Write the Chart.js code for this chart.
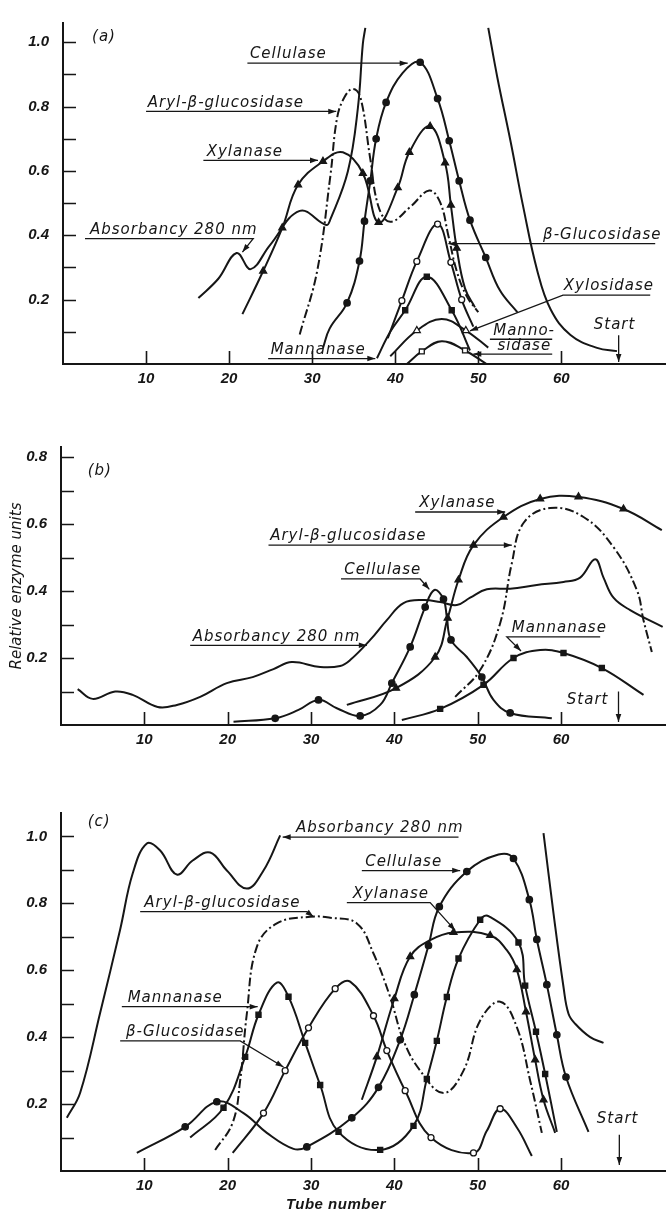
<!DOCTYPE html>
<html>
<head>
<meta charset="utf-8">
<script src="https://cdn.jsdelivr.net/npm/chart.js@4.4.1/dist/chart.umd.min.js"></script>
<style>
  body { margin: 0; background: #fff; width: 666px; height: 1216px; position: relative; overflow: hidden; }
  canvas { position: absolute; left: 0; }
</style>
</head>
<body>
<canvas id="chartA" width="666" height="390" style="top:0px"></canvas>
<canvas id="chartB" width="666" height="350" style="top:400px"></canvas>
<canvas id="chartC" width="666" height="436" style="top:780px"></canvas>
<script>
// tick labels
const tubeTicks = [10, 20, 30, 40, 50, 60];
const yLabels = [0.2, 0.4, 0.6, 0.8, 1.0];

// ---- panel (a) : [tube, value]
const aAbsorbancy1 = [[16.3,0.205],[18.7,0.265],[20.9,0.345],[22.6,0.295],[24.9,0.369],[28.5,0.476],[31.7,0.432],[32.2,0.45],[34.3,0.599],[35.5,0.795],[36.1,0.995],[36.4,1.045]];
const aAbsorbancy2 = [[51.2,1.045],[52.3,0.89],[53.9,0.69],[55.4,0.49],[57.1,0.29],[58.7,0.17],[61.1,0.09],[64.3,0.05],[66.7,0.04]];
const aCellulase = [[31.3,0.05],[32.1,0.11],[34.2,0.19],[35.7,0.32],[36.3,0.444],[37.0,0.569],[37.7,0.70],[38.9,0.813],[40.9,0.905],[43.0,0.938],[45.1,0.825],[46.5,0.694],[47.7,0.569],[49.0,0.447],[50.9,0.331],[52.6,0.229],[54.7,0.161]];
const aCellulaseMarks = [2,3,4,5,6,7,9,10,11,12,13,14];
const aXylanase = [[21.6,0.155],[24.1,0.289],[26.4,0.423],[28.3,0.557],[31.3,0.63],[33.7,0.658],[36.1,0.593],[38.0,0.44],[40.3,0.548],[41.7,0.658],[44.2,0.739],[46.0,0.625],[46.7,0.494],[47.4,0.36],[48.4,0.235],[49.6,0.176]];
const aXylanaseMarks = [1,2,3,4,6,7,8,9,10,11,12,13];
const aAryl = [[28.5,0.092],[30.6,0.289],[32.2,0.587],[33.0,0.765],[33.9,0.83],[34.9,0.855],[35.8,0.83],[37.0,0.637],[38.0,0.488],[39.4,0.442],[41.8,0.488],[44.1,0.539],[45.4,0.503],[46.4,0.399],[47.4,0.289],[48.6,0.211],[50.0,0.161]];
const aBetaGluc = [[39.1,0.08],[40.8,0.197],[42.6,0.319],[45.1,0.435],[46.7,0.316],[48.0,0.2],[49.4,0.116]];
const aBetaGlucMarks = [1,2,3,4,5];
const aMannanase = [[37.8,0.018],[39.4,0.10],[41.2,0.167],[43.8,0.271],[46.8,0.167],[49.0,0.042]];
const aMannanaseMarks = [2,3,4];
const aXylosidase = [[39.4,0.024],[42.6,0.104],[45.6,0.14],[48.5,0.104],[51.2,0.051]];
const aXylosidaseMarks = [1,3];
const aMannosidase = [[41.4,0.0],[43.2,0.039],[45.6,0.071],[48.4,0.042],[51.0,0.0]];
const aMannosidaseMarks = [1,3];

// ---- panel (b)
const bAbsorbancy = [[2.0,0.107],[3.8,0.078],[6.5,0.10],[8.6,0.09],[11.6,0.054],[13.9,0.06],[16.7,0.084],[19.9,0.125],[23.0,0.143],[25.5,0.167],[27.7,0.188],[31.1,0.173],[33.5,0.176],[34.7,0.194],[37.1,0.254],[39.1,0.313],[41.1,0.364],[43.5,0.373],[45.5,0.367],[47.5,0.358],[49.1,0.38],[51.1,0.405],[53.9,0.407],[57.1,0.418],[60.3,0.427],[62.3,0.44],[64.1,0.495],[65.1,0.44],[66.3,0.38],[68.3,0.343],[72.2,0.293]];
const bCellulase = [[20.7,0.01],[25.7,0.02],[28.5,0.045],[30.9,0.075],[33.1,0.05],[35.9,0.027],[38.3,0.06],[39.7,0.125],[41.9,0.233],[43.7,0.352],[44.8,0.403],[45.9,0.376],[46.3,0.322],[46.8,0.254],[48.7,0.203],[50.5,0.143],[51.9,0.075],[53.9,0.036],[58.9,0.02]];
const bCellulaseMarks = [1,3,5,7,8,9,11,13,15,17];
const bXylanase = [[34.3,0.06],[40.2,0.11],[44.9,0.203],[46.4,0.319],[47.7,0.433],[49.5,0.537],[53.1,0.621],[57.5,0.675],[62.1,0.681],[67.5,0.645],[72.1,0.582]];
const bXylanaseMarks = [1,2,3,4,5,6,7,8,9];
const bAryl = [[47.3,0.084],[50.3,0.164],[52.7,0.304],[54.1,0.483],[55.5,0.603],[58.7,0.648],[62.7,0.621],[66.3,0.531],[69.1,0.403],[69.9,0.313],[70.9,0.218]];
const bMannanase = [[40.9,0.015],[45.5,0.048],[50.7,0.12],[54.3,0.2],[57.5,0.224],[60.3,0.215],[64.9,0.17],[69.9,0.09]];
const bMannanaseMarks = [1,2,3,5,6];

// ---- panel (c)
const cAbsorbancy1 = [[0.7,0.159],[2.3,0.234],[4.7,0.473],[7.1,0.722],[8.6,0.889],[10.3,0.979],[11.9,0.958],[13.9,0.886],[15.8,0.928],[17.9,0.952],[19.9,0.898],[22.3,0.844],[24.3,0.898],[26.3,1.003]];
const cAbsorbancy2 = [[57.9,1.01],[59.1,0.77],[60.3,0.55],[60.9,0.47],[61.7,0.44],[63.5,0.4],[65.1,0.383]];
const cAryl = [[18.5,0.063],[20.6,0.144],[21.5,0.27],[22.3,0.47],[23.5,0.67],[25.9,0.74],[29.9,0.76],[32.3,0.757],[35.5,0.74],[37.5,0.65],[39.5,0.52],[41.1,0.39],[43.1,0.30],[45.9,0.233],[48.3,0.30],[50.3,0.45],[52.7,0.506],[54.7,0.43],[56.3,0.27],[57.7,0.114]];
const cMannanase = [[15.5,0.10],[19.5,0.189],[22.1,0.341],[23.7,0.467],[25.9,0.563],[27.3,0.521],[29.3,0.383],[31.1,0.257],[33.3,0.117],[38.3,0.063],[42.3,0.135],[43.9,0.275],[45.1,0.389],[46.3,0.52],[47.7,0.635],[50.3,0.751],[51.3,0.762],[54.9,0.683],[55.7,0.554],[57.0,0.416],[58.1,0.29],[59.5,0.117]];
const cMannanaseMarks = [1,2,3,5,6,7,8,9,10,11,12,13,14,15,17,18,19,20];
const cBetaGluc = [[20.6,0.054],[24.3,0.173],[26.9,0.30],[29.7,0.428],[32.9,0.545],[34.7,0.566],[37.5,0.464],[39.1,0.36],[41.3,0.24],[44.4,0.10],[49.5,0.054],[51.1,0.12],[52.7,0.186],[54.7,0.13],[56.5,0.045]];
const cBetaGlucMarks = [1,2,3,4,6,7,8,9,10,12];
const cCellulase = [[9.1,0.054],[14.9,0.132],[18.7,0.207],[21.9,0.173],[24.7,0.114],[27.9,0.066],[29.5,0.072],[34.9,0.159],[38.1,0.25],[40.7,0.392],[42.4,0.527],[44.1,0.674],[45.4,0.79],[48.7,0.895],[52.5,0.946],[54.3,0.934],[56.2,0.811],[57.1,0.692],[58.3,0.557],[59.5,0.407],[60.6,0.281],[63.3,0.117]];
const cCellulaseMarks = [1,2,6,7,8,9,10,11,12,13,15,16,17,18,19,20];
const cXylanase = [[36.1,0.213],[37.9,0.341],[40.0,0.515],[41.9,0.641],[44.3,0.69],[47.1,0.713],[51.5,0.704],[53.5,0.66],[54.7,0.602],[55.8,0.476],[56.9,0.332],[57.9,0.213],[59.3,0.114]];
const cXylanaseMarks = [1,2,3,5,6,8,9,10,11];

const INK = '#161616';
const NOTE_FONT = 'italic 15px "DejaVu Sans", sans-serif';
const TICK_FONT = { family: '"Liberation Sans", sans-serif', size: 15, style: 'italic', weight: 'bold' };

// marker kinds
const MARK = {
  dot:  { pointStyle: 'circle',   r: 3.2, fill: INK },
  tri:  { pointStyle: 'triangle', r: 4,   fill: INK },
  sq:   { pointStyle: 'rect',     r: 3.6, fill: INK },
  odot: { pointStyle: 'circle',   r: 3,   fill: '#fff' },
  otri: { pointStyle: 'triangle', r: 4,   fill: '#fff' },
  osq:  { pointStyle: 'rect',     r: 3.5, fill: '#fff' }
};

function curve(pts, marks, kind, dashed) {
  const m = kind ? MARK[kind] : null;
  return {
    data: pts.map(p => ({ x: p[0], y: p[1] })),
    borderColor: INK,
    borderWidth: 2,
    borderDash: dashed ? [9, 3, 2, 3] : [],
    tension: 0.4,
    fill: false,
    pointStyle: m ? m.pointStyle : 'circle',
    pointRadius: ctx => (m && marks && marks.includes(ctx.dataIndex)) ? m.r : 0,
    pointBackgroundColor: m ? m.fill : INK,
    pointBorderColor: INK,
    pointBorderWidth: 1.3
  };
}

function arrowHead(ctx, x0, y0, x1, y1) {
  const a = Math.atan2(y1 - y0, x1 - x0), L = 8, W = 2.8;
  ctx.beginPath();
  ctx.moveTo(x1, y1);
  ctx.lineTo(x1 - L * Math.cos(a) + W * Math.sin(a), y1 - L * Math.sin(a) - W * Math.cos(a));
  ctx.lineTo(x1 - L * Math.cos(a) - W * Math.sin(a), y1 - L * Math.sin(a) + W * Math.cos(a));
  ctx.closePath();
  ctx.fill();
}

const panelDecor = {
  id: 'panelDecor',
  afterDraw(chart, args, opts) {
    const { ctx, chartArea: area, scales: { x, y } } = chart;
    ctx.save();
    ctx.strokeStyle = INK;
    ctx.fillStyle = INK;
    // inward tick marks
    ctx.lineWidth = 1.6;
    ctx.beginPath();
    for (let k = 1; k / 10 <= y.max + 1e-9; k++) {
      const py = Math.round(y.getPixelForValue(k / 10)) + 0.5;
      ctx.moveTo(area.left, py); ctx.lineTo(area.left + 13, py);
    }
    tubeTicks.forEach(t => {
      const px = Math.round(x.getPixelForValue(t)) + 0.5;
      ctx.moveTo(px, area.bottom); ctx.lineTo(px, area.bottom - 13);
    });
    ctx.stroke();
    // labels with leader lines
    ctx.font = NOTE_FONT;
    ctx.letterSpacing = '1px';
    ctx.lineWidth = 1.3;
    opts.notes.forEach(n => {
      if (n.text) ctx.fillText(n.text, x.getPixelForValue(n.at[0]), y.getPixelForValue(n.at[1]));
      if (n.path) {
        const p = n.path.map(q => [x.getPixelForValue(q[0]), y.getPixelForValue(q[1])]);
        ctx.beginPath();
        p.forEach((q, i) => i ? ctx.lineTo(q[0], q[1]) : ctx.moveTo(q[0], q[1]));
        ctx.stroke();
        if (n.arrow) {
          const a = p[p.length - 2], b = p[p.length - 1];
          arrowHead(ctx, a[0], a[1], b[0], b[1]);
        }
      }
    });
    if (opts.xTitle) {
      ctx.font = 'italic bold 15px "Liberation Sans", sans-serif';
      ctx.letterSpacing = '0.5px';
      ctx.textAlign = 'center';
      ctx.fillText(opts.xTitle, x.getPixelForValue(33), area.bottom + 38);
    }
    ctx.restore();
  }
};

function makePanel(id, yMax, yAxisW, xAxisH, padTop, datasets, notes, extra) {
  extra = extra || {};
  return new Chart(document.getElementById(id), {
    type: 'line',
    data: { datasets },
    options: {
      responsive: false,
      animation: false,
      events: [],
      layout: { padding: { top: padTop, right: 0, left: 0, bottom: 0 } },
      plugins: {
        legend: { display: false },
        tooltip: { enabled: false },
        panelDecor: { notes, xTitle: extra.xTitle }
      },
      scales: {
        x: {
          type: 'linear', min: 0, max: 72.6,
          afterFit: s => { s.height = xAxisH; },
          grid: { display: false, drawTicks: false },
          border: { display: true, color: INK, width: 2 },
          ticks: {
            stepSize: 10, includeBounds: false, autoSkip: false, maxRotation: 0,
            padding: 6, color: INK, font: TICK_FONT,
            callback: v => tubeTicks.includes(v) ? String(v) : ''
          }
        },
        y: {
          type: 'linear', min: 0, max: yMax,
          afterFit: s => { s.width = yAxisW; },
          grid: { display: false, drawTicks: false },
          border: { display: true, color: INK, width: 2 },
          title: extra.yTitle ? {
            display: true, text: extra.yTitle, color: INK, padding: { top: 8, bottom: 0 },
            font: { family: '"DejaVu Sans", sans-serif', size: 15, style: 'italic' }
          } : { display: false },
          ticks: {
            stepSize: 0.1, includeBounds: false, autoSkip: false, maxTicksLimit: 20,
            padding: 14, color: INK, font: TICK_FONT,
            callback: v => {
              const k = Math.round(v * 10) / 10;
              return yLabels.includes(k) ? k.toFixed(1) : '';
            }
          }
        }
      }
    },
    plugins: [panelDecor]
  });
}

// ---- (a)
makePanel('chartA', 1.06, 63, 26, 8, [
  curve(aAbsorbancy1),
  curve(aAbsorbancy2),
  curve(aCellulase, aCellulaseMarks, 'dot'),
  curve(aXylanase, aXylanaseMarks, 'tri'),
  curve(aAryl, null, null, true),
  curve(aBetaGluc, aBetaGlucMarks, 'odot'),
  curve(aMannanase, aMannanaseMarks, 'sq'),
  curve(aXylosidase, aXylosidaseMarks, 'otri'),
  curve(aMannosidase, aMannosidaseMarks, 'osq')
], [
  { text: '(a)', at: [3.5, 1.005] },
  { text: 'Cellulase', at: [22.5, 0.95], path: [[22.2, 0.935], [41.5, 0.935]], arrow: true },
  { text: 'Aryl-β-glucosidase', at: [10.2, 0.8], path: [[10.0, 0.785], [32.9, 0.785]], arrow: true },
  { text: 'Xylanase', at: [17.3, 0.648], path: [[16.9, 0.633], [30.7, 0.633]], arrow: true },
  { text: 'Absorbancy 280 nm', at: [3.25, 0.405], path: [[2.65, 0.39], [22.9, 0.39], [21.6, 0.348]], arrow: true },
  { text: 'β-Glucosidase', at: [57.8, 0.388], path: [[71.3, 0.374], [46.4, 0.374]], arrow: true },
  { text: 'Xylosidase', at: [60.3, 0.229], path: [[70.7, 0.214], [60.2, 0.214], [49.0, 0.103]], arrow: true },
  { text: 'Manno-', at: [51.8, 0.09], path: [[51.4, 0.077], [58.9, 0.077]] },
  { text: 'sidase', at: [52.3, 0.045], path: [[58.9, 0.031], [49.4, 0.031]], arrow: true },
  { text: 'Mannanase', at: [25.0, 0.03], path: [[24.7, 0.017], [37.6, 0.017]], arrow: true },
  { text: 'Start', at: [63.9, 0.11], path: [[66.9, 0.089], [66.9, 0.006]], arrow: true }
]);

// ---- (b)
makePanel('chartB', 0.83, 61, 25, 47, [
  curve(bAbsorbancy),
  curve(bCellulase, bCellulaseMarks, 'dot'),
  curve(bXylanase, bXylanaseMarks, 'tri'),
  curve(bAryl, null, null, true),
  curve(bMannanase, bMannanaseMarks, 'sq')
], [
  { text: '(b)', at: [3.2, 0.746] },
  { text: 'Xylanase', at: [43.0, 0.651], path: [[42.5, 0.636], [53.3, 0.636]], arrow: true },
  { text: 'Aryl-β-glucosidase', at: [25.1, 0.552], path: [[24.9, 0.537], [54.1, 0.537]], arrow: true },
  { text: 'Cellulase', at: [34.0, 0.451], path: [[33.6, 0.436], [43.1, 0.436], [44.2, 0.405]], arrow: true },
  { text: 'Absorbancy 280 nm', at: [15.8, 0.252], path: [[15.5, 0.238], [36.7, 0.238]], arrow: true },
  { text: 'Mannanase', at: [54.1, 0.277], path: [[64.7, 0.263], [53.5, 0.263], [55.2, 0.221]], arrow: true },
  { text: 'Start', at: [60.7, 0.063], path: [[66.9, 0.1], [66.9, 0.009]], arrow: true }
], { yTitle: 'Relative enzyme units' });

// ---- (c)
makePanel('chartC', 1.07, 61, 45, 33, [
  curve(cAbsorbancy1),
  curve(cAbsorbancy2),
  curve(cAryl, null, null, true),
  curve(cMannanase, cMannanaseMarks, 'sq'),
  curve(cBetaGluc, cBetaGlucMarks, 'odot'),
  curve(cCellulase, cCellulaseMarks, 'dot'),
  curve(cXylanase, cXylanaseMarks, 'tri')
], [
  { text: '(c)', at: [3.2, 1.03] },
  { text: 'Absorbancy 280 nm', at: [28.2, 1.013], path: [[47.7, 0.998], [26.6, 0.998]], arrow: true },
  { text: 'Aryl-β-glucosidase', at: [10.0, 0.79], path: [[9.5, 0.775], [29.5, 0.775], [30.3, 0.76]], arrow: true },
  { text: 'Cellulase', at: [36.5, 0.912], path: [[36.1, 0.898], [47.9, 0.898]], arrow: true },
  { text: 'Xylanase', at: [35.0, 0.817], path: [[34.3, 0.802], [44.3, 0.802], [47.3, 0.719]], arrow: true },
  { text: 'Mannanase', at: [8.0, 0.506], path: [[7.3, 0.491], [23.6, 0.491]], arrow: true },
  { text: 'β-Glucosidase', at: [7.8, 0.403], path: [[7.1, 0.389], [21.5, 0.389], [26.7, 0.311]], arrow: true },
  { text: 'Start', at: [64.3, 0.144], path: [[67.0, 0.108], [67.0, 0.018]], arrow: true }
], { xTitle: 'Tube number' });
</script>
</body>
</html>
